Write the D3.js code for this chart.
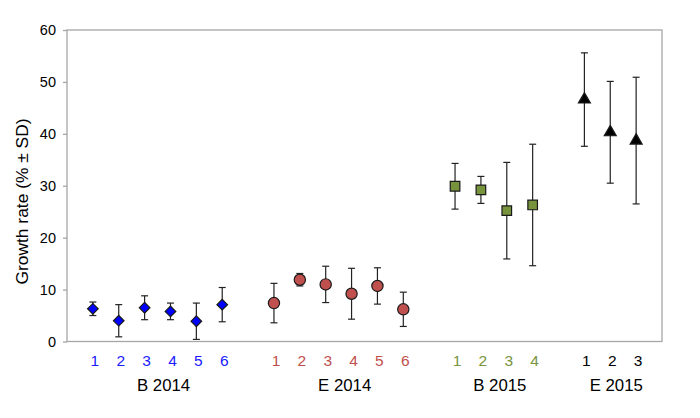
<!DOCTYPE html>
<html>
<head>
<meta charset="utf-8">
<script src="https://cdn.jsdelivr.net/npm/d3@7"></script>
<style>
  body { margin: 0; background: #fff; }
  text { font-family: "Liberation Sans", Arial, sans-serif; }
</style>
</head>
<body>
<div id="container"></div>
<script>
// data
const groupNames = ["B 2014", "E 2014", "B 2015", "E 2015"];
const b2014Mean = [6.3, 4.0, 6.5, 5.8, 3.9, 7.1];
const b2014SD   = [1.3, 3.1, 2.3, 1.6, 3.5, 3.3];
const e2014Mean = [7.4, 11.9, 11.0, 9.2, 10.7, 6.2];
const e2014SD   = [3.8, 1.2, 3.5, 4.9, 3.5, 3.3];
const b2015Mean = [29.9, 29.2, 25.2, 26.3];
const b2015SD   = [4.4, 2.6, 9.3, 11.7];
const e2015Mean = [46.6, 40.3, 38.7];
const e2015SD   = [9.0, 9.8, 12.2];
const yTicks = [0, 10, 20, 30, 40, 50, 60];

const width = 700, height = 418;
const marginLeft = 67, marginRight = 38, marginTop = 30, marginBottom = 76.5;

const styles = [
  {fill: "#0000ff", label: "#1a1aff", symbol: d3.symbolSquare, size: 56, rotate: 45},
  {fill: "#c0504d", label: "#c0504d", symbol: d3.symbolCircle, size: 100, rotate: 0},
  {fill: "#77933c", label: "#77933c", symbol: d3.symbolSquare, size: 92, rotate: 0},
  {fill: "#000000", label: "#000000", symbol: d3.symbolTriangle, size: 62, rotate: 0}
];

const means = [b2014Mean, e2014Mean, b2015Mean, e2015Mean];
const sds = [b2014SD, e2014SD, b2015SD, e2015SD];

// flatten to points, with one empty slot between groups
const points = [];
const slots = [];
means.forEach((arr, g) => {
  if (g > 0) slots.push("gap" + g);
  arr.forEach((m, i) => {
    const key = groupNames[g] + "|" + (i + 1);
    slots.push(key);
    points.push({key, group: g, n: i + 1, mean: m, sd: sds[g][i]});
  });
});

const x = d3.scalePoint()
  .domain(slots)
  .range([marginLeft, width - marginRight])
  .padding(1);

const y = d3.scaleLinear()
  .domain([0, 60])
  .range([height - marginBottom, marginTop]);

const svg = d3.select("#container").append("svg")
  .attr("width", width)
  .attr("height", height)
  .attr("viewBox", [0, 0, width, height]);

// frame
svg.append("rect")
  .attr("x", marginLeft)
  .attr("y", marginTop)
  .attr("width", width - marginLeft - marginRight)
  .attr("height", height - marginTop - marginBottom)
  .attr("fill", "none")
  .attr("stroke", "#a6a6a6")
  .attr("stroke-width", 1.3);

// y axis
svg.append("g")
  .attr("transform", `translate(${marginLeft},0)`)
  .call(d3.axisLeft(y).tickValues(yTicks).tickSize(4).tickPadding(7))
  .call(g => g.select(".domain").remove())
  .call(g => g.selectAll("line").attr("stroke", "#a6a6a6").attr("stroke-width", 1.3))
  .call(g => g.selectAll("text")
    .attr("font-size", 14.5)
    .attr("fill", "#000")
    .style("font-family", "Liberation Sans, Arial, sans-serif"));

svg.append("text")
  .attr("transform", "translate(28,201.5) rotate(-90)")
  .attr("text-anchor", "middle")
  .attr("font-size", 17.4)
  .text("Growth rate (% \u00b1 SD)");

// error bars
const eb = svg.append("g")
  .attr("stroke", "#222")
  .attr("stroke-width", 1.2)
  .selectAll("g")
  .data(points)
  .join("g");

eb.append("line")
  .attr("x1", d => x(d.key)).attr("x2", d => x(d.key))
  .attr("y1", d => y(d.mean + d.sd)).attr("y2", d => y(d.mean - d.sd));
eb.append("line")
  .attr("x1", d => x(d.key) - 3.5).attr("x2", d => x(d.key) + 3.5)
  .attr("y1", d => y(d.mean + d.sd)).attr("y2", d => y(d.mean + d.sd));
eb.append("line")
  .attr("x1", d => x(d.key) - 3.5).attr("x2", d => x(d.key) + 3.5)
  .attr("y1", d => y(d.mean - d.sd)).attr("y2", d => y(d.mean - d.sd));

// markers
svg.append("g")
  .selectAll("path")
  .data(points)
  .join("path")
  .attr("transform", d => `translate(${x(d.key)},${y(d.mean)}) rotate(${styles[d.group].rotate})`)
  .attr("d", d => d3.symbol(styles[d.group].symbol, styles[d.group].size)())
  .attr("fill", d => styles[d.group].fill)
  .attr("stroke", "#1a1a1a")
  .attr("stroke-width", 1.2);

// category numbers
svg.append("g")
  .selectAll("text")
  .data(points)
  .join("text")
  .attr("x", d => x(d.key) + 2)
  .attr("y", 366)
  .attr("text-anchor", "middle")
  .attr("font-size", 15.5)
  .attr("fill", d => styles[d.group].label)
  .text(d => d.n);

// group names
svg.append("g")
  .selectAll("text")
  .data(groupNames)
  .join("text")
  .attr("x", (g, i) => {
    const keys = points.filter(p => p.group === i).map(p => x(p.key));
    return (d3.min(keys) + d3.max(keys)) / 2 + 6;
  })
  .attr("y", 391)
  .attr("text-anchor", "middle")
  .attr("font-size", 16.8)
  .attr("fill", "#000")
  .text(d => d);
</script>
</body>
</html>
